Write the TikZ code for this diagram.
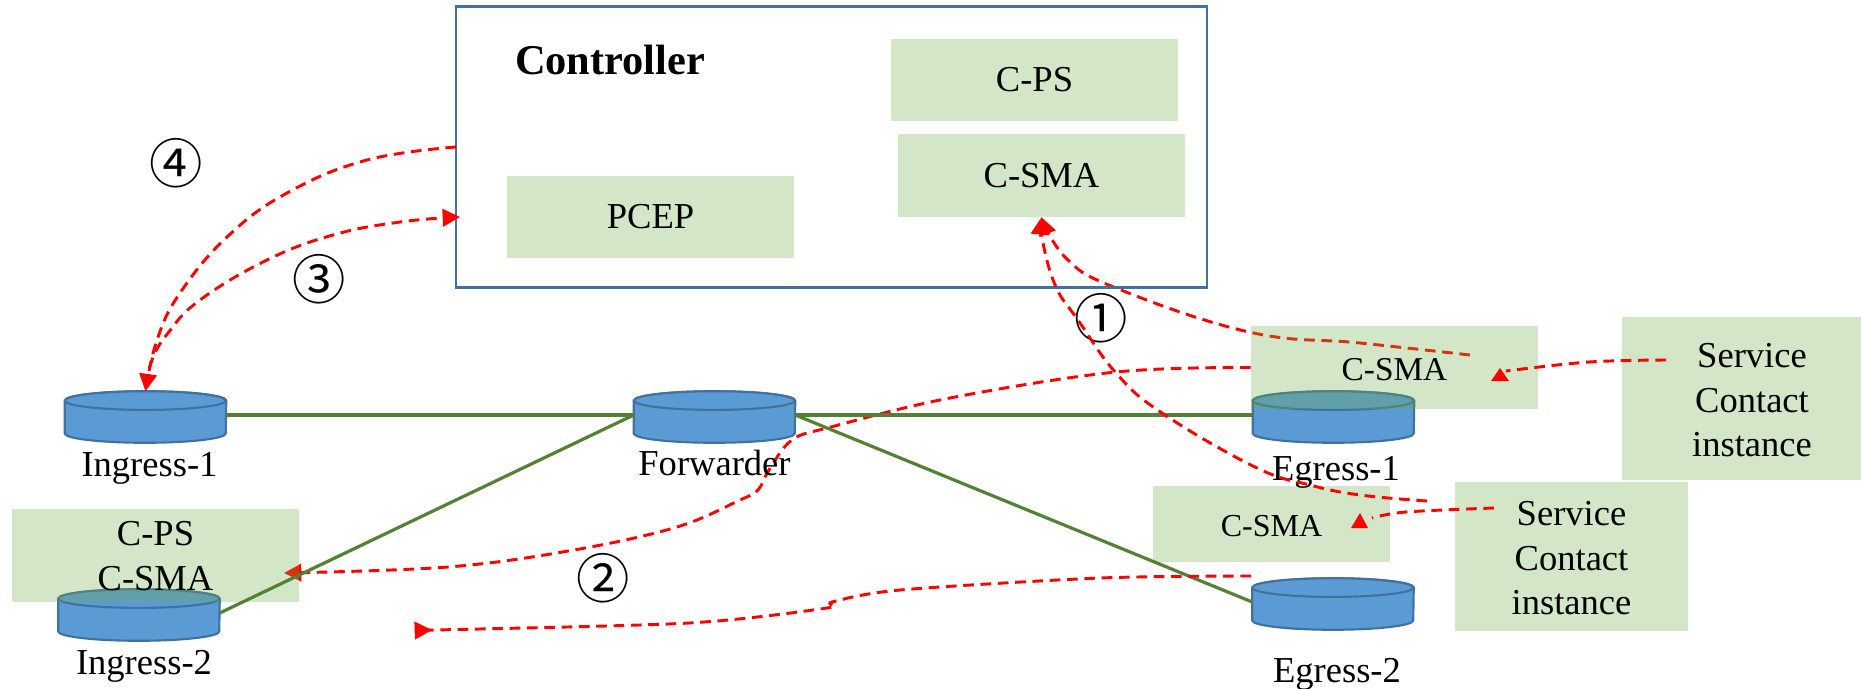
\documentclass[tikz,border=0pt]{standalone}
\usepackage{fontspec}
\setmainfont{Liberation Serif}
\newfontfamily\symfont{Noto Sans CJK SC}
\usetikzlibrary{arrows.meta}
\definecolor{boxgreen}{HTML}{70AD47}
\definecolor{linegreen}{HTML}{548235}
\definecolor{cylfill}{HTML}{5B9BD5}
\definecolor{cylline}{HTML}{41719C}
\definecolor{ctrlline}{HTML}{41719C}
\pgfdeclarelayer{under}
\pgfsetlayers{under,main}
\tikzset{
  greenbox/.style={fill=boxgreen,fill opacity=.3,text opacity=1,inner sep=0pt,align=center,font=\fontsize{27.4}{33.5}\selectfont},
  tag/.style={inner sep=0pt,font=\fontsize{27.4}{33.5}\selectfont},
  num/.style={inner sep=0pt,font=\symfont\fontsize{40}{44}\selectfont},
  link/.style={draw=linegreen,line width=2.4pt},
  reddash/.style={draw=red,line width=2.2pt,dash pattern=on 8pt off 5pt,line join=round},
  redarrow/.style={reddash,-{Triangle[length=13pt,width=13pt,fill=red,sep=0pt]}},
  cylbody/.style={fill=cylfill,draw=cylline,line width=1.6pt},
}
\newcommand{\cyl}[3]{%
  \node[minimum width=120.75pt,minimum height=38.25pt,inner sep=0pt] (#1) at (#2,#3) {};
  \path[cylbody] ([yshift=-7pt]#1.north west) -- ([yshift=7pt]#1.south west)
    arc[start angle=180,end angle=360,x radius=60.375pt,y radius=7pt]
    -- ([yshift=-7pt]#1.north east)
    arc[start angle=0,end angle=180,x radius=60.375pt,y radius=7pt] -- cycle;
  \path[cylbody] ([yshift=-7pt]#1.north west)
    arc[start angle=180,end angle=540,x radius=60.375pt,y radius=7pt];
}
\newcommand{\gbox}[6]{%
  \node[greenbox,minimum width=#4*.75pt,minimum height=#5*.75pt] (#1) at (#2,#3) {#6};
}
\newcommand{\lift}{\rule{0pt}{22pt}}
\begin{document}
\begin{tikzpicture}[x=.75pt,y=-.75pt]
\useasboundingbox (0,0) rectangle (1861,689);
\begin{pgfonlayer}{under}
\fill[white] (0,0) rectangle (1861,689);
\end{pgfonlayer}
% controller
\node[draw=ctrlline,line width=2pt,minimum width=563.25pt,minimum height=210.5pt,inner sep=0pt] (ctrl) at (831.5,147) {};
\node[inner sep=0pt,font=\bfseries\fontsize{31.8}{36}\selectfont] (ctitle) at (610,60) {Controller};
% cylinders
\cyl{ing1}{145.5}{417}
\cyl{fwd}{714.5}{417}
\cyl{egr1}{1333.5}{417}
\cyl{egr2}{1333}{604}
\cyl{ing2}{139}{615}
% boxes
\gbox{cps}{1034.5}{80}{287}{82}{C-PS}
\gbox{csma}{1041.5}{175.5}{287}{83}{C-SMA}
\gbox{pcep}{650.5}{217}{287}{82}{PCEP}
\gbox{csmae}{1394.5}{367.5}{287}{83}{{\fontsize{25}{30}\selectfont\rule{0pt}{20pt}C-SMA}}
\gbox{csmab}{1271.5}{524}{237}{76}{{\fontsize{24}{30}\selectfont\rule{0pt}{19pt}C-SMA}}
\gbox{left}{155.5}{555.5}{287}{93}{\rule{0pt}{19pt}C-PS\\C-SMA}
\gbox{svcb}{1571.5}{556.5}{233}{149}{\rule{0pt}{21pt}Service\\Contact\\instance}
\gbox{svca}{1752}{398.5}{260}{163}{\rule{0pt}{21pt}Service\\Contact\\instance}
% labels
\node[tag] (lbl1) at (149.5,468) {Ingress-1};
\node[tag] (lbl2) at (714.5,463) {Forwarder};
\node[tag] (lbl3) at (144,666) {Ingress-2};
\node[tag] (lbl4) at (1336,472) {Egress-1};
\node[tag] (lbl5) at (1337,674) {Egress-2};
\node[num] (n1) at (1101,318) {①};
\node[num] (n2) at (603,578) {②};
\node[num] (n3) at (319,279) {③};
\node[num] (n4) at (176,163) {④};
% links
\draw[link] ([yshift=1.5pt]ing1.east) -- ([yshift=1.5pt]fwd.west);
\draw[link] ([yshift=1.5pt]fwd.east) -- ([yshift=1.5pt]egr1.west);
\draw[link] ([yshift=1.5pt]fwd.west) -- ([yshift=1.5pt]ing2.east);
\draw[link] ([yshift=1.5pt]fwd.east) -- ([yshift=1.5pt]egr2.west);
% red curves
\coordinate (c4) at (456,147);
\coordinate (c3) at (460,217);
\coordinate (s3) at (147,385);
\coordinate (a1) at (1470,355);
\coordinate (b1) at (1427,501);
\coordinate (tipl) at (284,573);
\coordinate (tipf) at (432,630);
\coordinate (sa) at (1666,360);
\coordinate (sb) at (1494,508);
\coordinate (ea) at (1506,371);
\coordinate (eb) at (1372,518);
\coordinate (st2) at (1251,576);
\draw[redarrow,smooth,tension=.7] plot coordinates {(c4) (367,160) (287,193) (227,237) (180,293) (157,340) (ing1.north)};
\draw[redarrow,smooth,tension=.7] plot coordinates {(s3) (152,360) (168,333) (200,300) (267,260) (333,235) (400,222) (c3)};
\begin{pgfonlayer}{under}
\draw[redarrow,smooth,tension=.7] plot coordinates {(a1) (1360,343) (1249,332) (1116,288) (1066,258) (csma.south)};
\draw[redarrow,smooth,tension=.6] plot coordinates {(csmae.west) (1116,372) (950,398) (831,427) (792,440) (769,470) (758,490) (740,500) (677,527) (574,550) (448,567) (tipl)};
\end{pgfonlayer}
\draw[redarrow,smooth,tension=.7] plot coordinates {(b1) (1360,495) (1310,485) (1255,467) (1162,413) (1116,373) (1078,320) (1056,287) (1043,243) (csma.south)};
\draw[redarrow,smooth,tension=.5] plot coordinates {(st2) (1100,578) (900,590) (832,602) (827,608) (689,623) (436,630) (tipf)};
\draw[reddash,smooth,tension=.6] plot coordinates {(sa) (1589,362) (ea)};
\draw[reddash,smooth,tension=.6] plot coordinates {(sb) (1406,512) (eb)};
\fill[red] (1500,368) -- (1509,381) -- (1491,381) -- cycle;
\fill[red] (1360,513) -- (1368,528) -- (1351,528) -- cycle;
\end{tikzpicture}
\end{document}
